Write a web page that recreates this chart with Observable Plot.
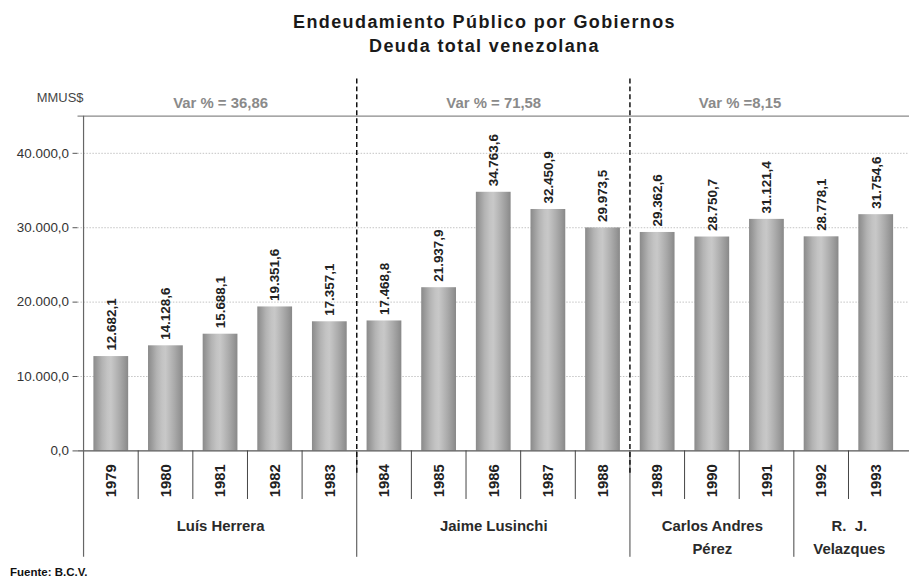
<!DOCTYPE html>
<html>
<head>
<meta charset="utf-8">
<script src="https://cdn.jsdelivr.net/npm/d3@7"></script>
<script src="https://cdn.jsdelivr.net/npm/@observablehq/plot@0.6"></script>
<style>
  html, body { margin: 0; padding: 0; overflow: hidden; background: #fff; width: 909px; height: 582px; }
  body { position: relative; font-family: "Liberation Sans", Arial, sans-serif; }
  #title { position: absolute; left: 0; top: 10px; width: 969px; text-align: center; font-weight: bold; font-size: 18px; line-height: 24px; letter-spacing: 1.4px; color: #1a1a1a; }
  #chart { position: absolute; left: 0; top: 60px; }
  #footer { position: absolute; left: 10px; top: 566px; font-weight: bold; font-size: 11.5px; color: #111; }
</style>
</head>
<body>
<div id="title">Endeudamiento Público por Gobiernos<br>Deuda total venezolana</div>
<div id="chart"></div>
<div id="footer">Fuente: B.C.V.</div>
<script>
const years = ["1979","1980","1981","1982","1983","1984","1985","1986","1987","1988","1989","1990","1991","1992","1993"];
const debt = [12682.1, 14128.6, 15688.1, 19351.6, 17357.1, 17468.8, 21937.9, 34763.6, 32450.9, 29973.5, 29362.6, 28750.7, 31121.4, 28778.1, 31754.6];
const yTicks = [0, 10000, 20000, 30000, 40000];
const groupNames = ["Luís Herrera", "Jaime Lusinchi", "Carlos Andres\nPérez", "R.  J.\nVelazques"];
const groupFirst = ["1979", "1984", "1989", "1992"];
const groupLast = ["1983", "1988", "1991", "1993"];
const varTexts = ["Var % = 36,86", "Var % = 71,58", "Var % =8,15"];
const varFirst = ["1979", "1984", "1990"];
const varLast = ["1983", "1988", "1991"];
const dashedAt = ["1984", "1989"];
const unitLabel = "MMUS$";

const W = 915, H = 506, ML = 78, MR = 0, MT = 56, MB = 113;
const step = (W - ML - MR) / years.length;
const data = years.map((y, i) => ({year: y, value: debt[i]}));
const locale = d3.formatLocale({decimal: ",", thousands: ".", grouping: [3], currency: ["", ""]});
const fmt = locale.format(",.1f");
const idx = y => years.indexOf(y);

const groupStarts = new Set(groupFirst);
const innerSeps = years.filter(y => !groupStarts.has(y));
const outerSeps = groupFirst;

const marks = [
  Plot.ruleY(yTicks.filter(d => d > 0), {stroke: "#c4c4c4", strokeDasharray: "1.5,1.5", strokeWidth: 1}),
  Plot.ruleY([45000], {stroke: "#8a8a8a", strokeWidth: 1.2}),
  Plot.barY(data, {x: "year", y: "value", fill: "url(#barGrad)"}),
  Plot.ruleY([0], {stroke: "#555", strokeWidth: 1.2}),
  Plot.axisY({ticks: yTicks, tickFormat: fmt, tickSize: 5, tickPadding: 4, fontSize: 13.5, color: "#333", label: null, stroke: "#555"}),
  Plot.ruleX(["1979"], {x: d => d, y1: 45000, y2: -14300, dx: -step / 2, stroke: "#666", strokeWidth: 1.2}),
  Plot.ruleX(innerSeps, {x: d => d, y1: 0, y2: -6530, dx: -step / 2, stroke: "#444", strokeWidth: 1}),
  Plot.ruleX(outerSeps.filter(d => d !== "1979"), {x: d => d, y1: 0, y2: -14300, dx: -step / 2, stroke: "#444", strokeWidth: 1}),
  Plot.ruleX(dashedAt, {x: d => d, y1: 50000, y2: -3200, dx: -step / 2, stroke: "#111", strokeWidth: 1.5, strokeDasharray: "5,3"}),
  Plot.text(data, {x: "year", y: "value", text: d => fmt(d.value), rotate: -90, textAnchor: "start", dy: -6, fontSize: 13.5, fontWeight: "bold", fill: "#222"}),
  Plot.text(years, {x: d => d, y: 0, text: d => d, rotate: -90, textAnchor: "middle", dy: 30, fontSize: 15, fontWeight: "bold", fill: "#222"}),
  Plot.text([unitLabel], {frameAnchor: "top-left", text: d => d, dx: -18, dy: -23, textAnchor: "middle", fontSize: 13, fill: "#444"})
];

groupNames.forEach((name, i) => {
  const a = idx(groupFirst[i]), b = idx(groupLast[i]);
  const mid = years[Math.floor((a + b) / 2)];
  const off = ((a + b) / 2 - Math.floor((a + b) / 2)) * step;
  marks.push(Plot.text([name], {x: () => mid, y: -8500, text: d => d, dx: off, lineAnchor: "top", lineHeight: 1.55, fontSize: 15, fontWeight: "bold", fill: "#2a2a2a", style: {letterSpacing: "1px"}}));
});

varTexts.forEach((t, i) => {
  const a = idx(varFirst[i]), b = idx(varLast[i]);
  const mid = years[Math.floor((a + b) / 2)];
  const off = ((a + b) / 2 - Math.floor((a + b) / 2)) * step;
  marks.push(Plot.text([t], {x: () => mid, y: 46670, text: d => d, dx: off, fontSize: 15, fontWeight: "bold", fill: "#8a8a8a"}));
});

const plot = Plot.plot({
  width: W, height: H,
  marginLeft: ML, marginRight: MR, marginTop: MT, marginBottom: MB,
  style: {fontFamily: "'Liberation Sans', Arial, sans-serif", overflow: "visible", background: "transparent"},
  x: {domain: years, paddingInner: 0.36, paddingOuter: 0.18, axis: null},
  y: {domain: [0, 45000], axis: null},
  marks
});

const svg = d3.select(plot);
const grad = svg.insert("defs", ":first-child").append("linearGradient")
  .attr("id", "barGrad").attr("x1", "0").attr("x2", "1").attr("y1", "0").attr("y2", "0");
[[0, "#8a8a8a"], [0.1, "#9a9a9a"], [0.25, "#b3b3b3"], [0.4, "#c3c3c3"], [0.5, "#c8c8c8"], [0.6, "#bdbdbd"], [0.75, "#ababab"], [0.9, "#979797"], [1, "#888888"]]
  .forEach(([o, c]) => grad.append("stop").attr("offset", o).attr("stop-color", c));

document.getElementById("chart").appendChild(plot);
</script>
</body>
</html>
